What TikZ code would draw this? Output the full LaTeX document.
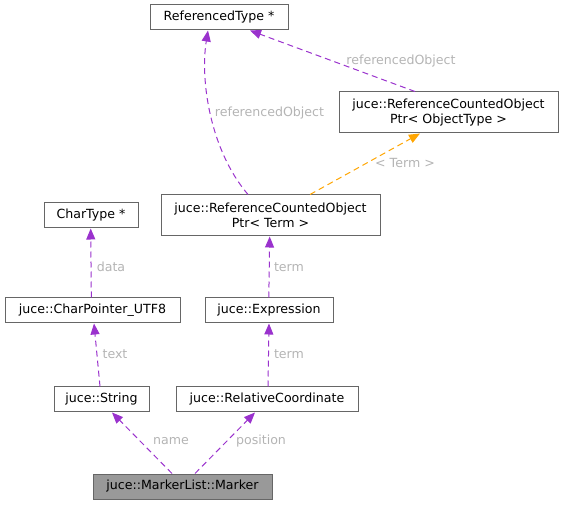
\documentclass[tikz,border=0pt]{standalone}
\usepackage{fontspec}
\setmainfont{DejaVu Sans}
\usetikzlibrary{arrows.meta}
\definecolor{edgep}{HTML}{9A32CD}
\definecolor{edgeo}{HTML}{FFA500}
\definecolor{boxc}{HTML}{666666}
\definecolor{lblc}{HTML}{B4B4B4}
\definecolor{mkfill}{HTML}{999999}
\tikzset{
  cls/.style={draw=boxc, line width=1pt, fill=white, inner sep=0pt, align=center,
    font=\fontsize{12.6}{14.6}\selectfont},
  rel/.style={draw=edgep, line width=1pt, dash pattern=on 6pt off 4pt,
    -{Triangle[length=11pt,width=9pt]}},
  tpl/.style={draw=edgeo, line width=1pt, dash pattern=on 6pt off 4pt,
    -{Triangle[length=11pt,width=9pt]}},
  lbl/.style={text=lblc, inner sep=0pt, font=\fontsize{12.6}{14.6}\selectfont}
}
\begin{document}
\begin{tikzpicture}[x=1pt,y=-1pt]
\useasboundingbox (0,0) rectangle (563,505);
\node[cls, minimum width=138pt, minimum height=25pt] (rt) at (219,17.5) {ReferencedType *};
\node[cls, minimum width=219pt, minimum height=41pt] (rcoo) at (448.5,112.5) {juce::ReferenceCountedObject\\Ptr< ObjectType >};
\node[cls, minimum width=94pt, minimum height=25pt] (ct) at (91,215.5) {CharType *};
\node[cls, minimum width=219pt, minimum height=41pt] (rcot) at (270.5,215.5) {juce::ReferenceCountedObject\\Ptr< Term >};
\node[cls, minimum width=175pt, minimum height=25pt] (cp) at (92.5,310.5) {juce::CharPointer\_UTF8};
\node[cls, minimum width=128pt, minimum height=25pt] (ex) at (269,310.5) {juce::Expression};
\node[cls, minimum width=95pt, minimum height=25pt] (str) at (101.5,399.5) {juce::String};
\node[cls, minimum width=182pt, minimum height=25pt] (rc) at (267,399.5) {juce::RelativeCoordinate};
\node[cls, fill=mkfill, minimum width=179pt, minimum height=25pt] (mk) at (182.5,486.5) {juce::MarkerList::Marker};

\draw[rel] ([xshift=-10.5pt]mk.north) -- ([xshift=10.5pt]str.south);
\draw[rel] ([xshift=12.5pt]mk.north) -- ([xshift=-12pt]rc.south);
\draw[rel] ([xshift=-1.5pt]str.north) -- ([xshift=1.5pt]cp.south);
\draw[rel] ([xshift=-1.2pt]cp.north) -- ([xshift=-0.3pt]ct.south);
\draw[rel] ([xshift=1pt]rc.north) -- (ex.south);
\draw[rel] ([xshift=-0.2pt]ex.north) -- ([xshift=-0.8pt]rcot.south);
\draw[rel] ([xshift=-22.5pt]rcot.north) .. controls (210,150) and (200,80) .. ([xshift=-11pt]rt.south);
\draw[tpl] ([xshift=39.5pt]rcot.north) -- ([xshift=-28.5pt]rcoo.south);
\draw[rel] ([xshift=-33.5pt]rcoo.north) -- ([xshift=31pt]rt.south);

\node[lbl] (l1) at (171,441) {name};
\node[lbl] (l2) at (261,441) {position};
\node[lbl] (l3) at (115,354) {text};
\node[lbl] (l4) at (111,267) {data};
\node[lbl] (l5) at (289,354) {term};
\node[lbl] (l6) at (289,267) {term};
\node[lbl] (l7) at (405,163) {< Term >};
\node[lbl] (l8) at (269.5,113) {referencedObject};
\node[lbl] (l9) at (401,61) {referencedObject};
\end{tikzpicture}
\end{document}
